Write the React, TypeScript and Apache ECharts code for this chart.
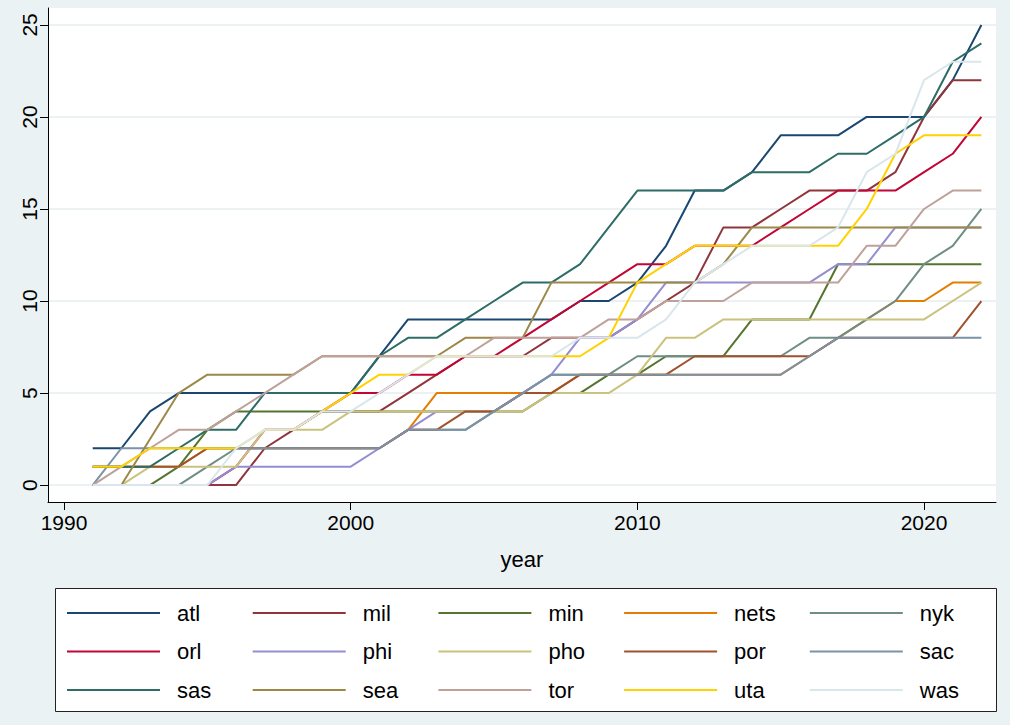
import React, { useEffect, useRef } from "react";
import * as echarts from "echarts";

const years = [1991, 1992, 1993, 1994, 1995, 1996, 1997, 1998, 1999, 2000, 2001, 2002, 2003, 2004, 2005, 2006, 2007, 2008, 2009, 2010, 2011, 2012, 2013, 2014, 2015, 2016, 2017, 2018, 2019, 2020, 2021, 2022];

const teamNames = ["atl", "mil", "min", "nets", "nyk", "orl", "phi", "pho", "por", "sac", "sas", "sea", "tor", "uta", "was"];
const teamColors = ["#1a476f", "#90353b", "#55752f", "#e37e00", "#6e8e84", "#c10534", "#938dd2", "#cac27e", "#a0522d", "#7b92a8", "#2d6d66", "#9c8847", "#bfa19c", "#ffd200", "#d9e6eb"];

const atl = [2, 2, 4, 5, 5, 5, 5, 5, 5, 5, 7, 9, 9, 9, 9, 9, 9, 10, 10, 11, 13, 16, 16, 17, 19, 19, 19, 20, 20, 20, 22, 25];
const mil = [0, 0, 0, 0, 0, 0, 2, 3, 4, 4, 4, 5, 6, 7, 7, 7, 8, 8, 8, 9, 10, 11, 14, 14, 15, 16, 16, 16, 17, 20, 22, 22];
const min = [0, 0, 0, 1, 3, 4, 4, 4, 4, 4, 4, 4, 4, 4, 4, 4, 5, 5, 6, 6, 7, 7, 7, 9, 9, 9, 12, 12, 12, 12, 12, 12];
const nets = [1, 1, 1, 1, 2, 2, 2, 2, 2, 2, 2, 3, 5, 5, 5, 5, 5, 6, 6, 6, 6, 6, 6, 6, 6, 7, 8, 9, 10, 10, 11, 11];
const nyk = [0, 0, 0, 0, 1, 2, 2, 2, 2, 2, 2, 3, 3, 3, 4, 5, 6, 6, 6, 7, 7, 7, 7, 7, 7, 8, 8, 9, 10, 12, 13, 15];
const orl = [0, 0, 0, 0, 0, 1, 3, 3, 4, 5, 5, 6, 6, 7, 7, 8, 9, 10, 11, 12, 12, 13, 13, 13, 14, 15, 16, 16, 16, 17, 18, 20];
const phi = [0, 0, 0, 0, 0, 1, 1, 1, 1, 1, 2, 3, 4, 4, 4, 5, 6, 8, 8, 9, 11, 11, 11, 11, 11, 11, 12, 12, 14, 14, 14, 14];
const pho = [0, 0, 1, 1, 1, 1, 3, 3, 3, 4, 4, 4, 4, 4, 4, 4, 5, 5, 5, 6, 8, 8, 9, 9, 9, 9, 9, 9, 9, 9, 10, 11];
const por = [1, 1, 1, 1, 2, 2, 2, 2, 2, 2, 2, 3, 3, 4, 4, 5, 5, 6, 6, 6, 6, 7, 7, 7, 7, 7, 8, 8, 8, 8, 8, 10];
const sac = [0, 2, 2, 2, 2, 2, 2, 2, 2, 2, 2, 3, 3, 3, 4, 5, 6, 6, 6, 6, 6, 6, 6, 6, 6, 7, 8, 8, 8, 8, 8, 8];
const sas = [1, 1, 1, 2, 3, 3, 5, 5, 5, 5, 7, 8, 8, 9, 10, 11, 11, 12, 14, 16, 16, 16, 16, 17, 17, 17, 18, 18, 19, 20, 23, 24];
const sea = [0, 0, 2.5, 5, 6, 6, 6, 6, 7, 7, 7, 7, 7, 8, 8, 8, 11, 11, 11, 11, 11, 11, 12, 14, 14, 14, 14, 14, 14, 14, 14, 14];
const tor = [0, 1, 2, 3, 3, 4, 5, 6, 7, 7, 7, 7, 7, 7, 8, 8, 8, 8, 9, 9, 10, 10, 10, 11, 11, 11, 11, 13, 13, 15, 16, 16];
const uta = [1, 1, 2, 2, 2, 2, 3, 3, 4, 5, 6, 6, 7, 7, 7, 7, 7, 7, 8, 11, 12, 13, 13, 13, 13, 13, 13, 15, 18, 19, 19, 19];
const was = [0, 0, 0, 0, 0, 2, 3, 3, 4, 4, 5, 6, 7, 7, 7, 7, 7, 8, 8, 8, 9, 11, 12, 13, 13, 13, 14, 17, 18, 22, 23, 23];

const teamValues = [atl, mil, min, nets, nyk, orl, phi, pho, por, sac, sas, sea, tor, uta, was];

const xTicks = [1990, 2000, 2010, 2020];
const yTicks = [0, 5, 10, 15, 20, 25];

const FONT = "'Liberation Sans', Arial, Helvetica, sans-serif";

export default function App() {
  const ref = useRef<HTMLDivElement>(null);

  useEffect(() => {
    if (!ref.current) return;
    const chart = echarts.init(ref.current, null, { renderer: "svg" });

    const series = teamNames.map((name, k) => ({
      name,
      type: "line",
      data: years.map((yr, i) => [yr, teamValues[k][i]]),
      showSymbol: false,
      symbol: "none",
      color: teamColors[k],
      itemStyle: { color: teamColors[k] },
      lineStyle: { color: teamColors[k], width: 2 },
      emphasis: { disabled: true },
      z: 2,
    }));

    const legends = [0, 1, 2, 3, 4].map((c) => ({
      orient: "vertical",
      left: 67 + c * 185.7,
      top: 601,
      padding: 0,
      itemGap: 14.5,
      itemWidth: 93,
      itemHeight: 2,
      icon: "rect",
      selectedMode: false,
      z: 10,
      textStyle: {
        fontSize: 22,
        fontFamily: FONT,
        color: "#000",
        lineHeight: 24,
        padding: [0, 0, 0, 12],
      },
      data: [teamNames[c], teamNames[c + 5], teamNames[c + 10]],
    }));

    chart.setOption({
      animation: false,
      backgroundColor: "#eaf2f3",
      grid: {
        left: 48,
        top: 8,
        width: 948,
        height: 494,
        show: true,
        backgroundColor: "#ffffff",
        borderWidth: 0,
        containLabel: false,
      },
      xAxis: {
        type: "value",
        min: 1989.44,
        max: 2022.51,
        name: "year",
        nameLocation: "middle",
        nameGap: 46,
        nameTextStyle: { fontSize: 22, fontFamily: FONT, color: "#000" },
        axisLine: { show: true, onZero: false, lineStyle: { color: "#000", width: 1 } },
        axisTick: { show: true, length: 8, customValues: xTicks, lineStyle: { color: "#000" } },
        axisLabel: {
          customValues: xTicks,
          formatter: (v: number) => String(Math.round(v)),
          fontSize: 21,
          fontFamily: FONT,
          color: "#000",
          margin: 10,
        },
        splitLine: { show: false },
      },
      yAxis: {
        type: "value",
        min: -0.92,
        max: 25.92,
        axisLine: { show: true, onZero: false, lineStyle: { color: "#000", width: 1 } },
        axisTick: { show: true, length: 8, customValues: yTicks, lineStyle: { color: "#000" } },
        axisLabel: {
          customValues: yTicks,
          formatter: (v: number) => String(Math.round(v)),
          fontSize: 21,
          fontFamily: FONT,
          color: "#000",
          rotate: 90,
          margin: 8,
        },
        splitLine: { show: true, lineStyle: { color: "#e6eef0", width: 1.5 } },
      },
      legend: legends,
      graphic: [
        {
          type: "rect",
          z: 1,
          shape: { x: 55.5, y: 588.5, width: 941, height: 123 },
          style: { fill: "#ffffff", stroke: "#222", lineWidth: 1 },
        },
      ],
      series,
    });

    return () => chart.dispose();
  }, []);

  return (
    <div
      ref={ref}
      style={{ position: "absolute", left: 0, top: 0, width: 1010, height: 725 }}
    />
  );
}
